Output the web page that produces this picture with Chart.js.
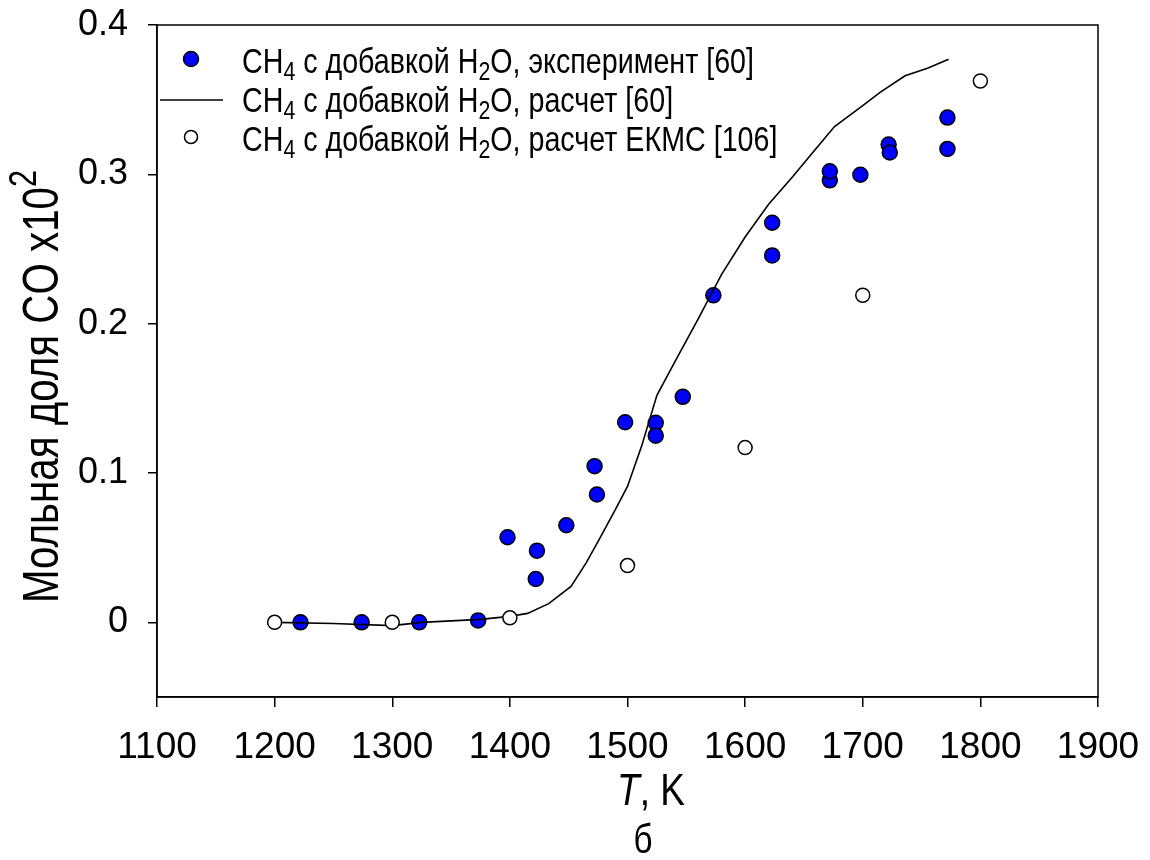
<!DOCTYPE html>
<html>
<head>
<meta charset="utf-8">
<script src="https://cdn.jsdelivr.net/npm/chart.js@4.4.1/dist/chart.umd.min.js"></script>
<style>
  html, body { margin: 0; padding: 0; background: #fff; }
  #wrap { width: 1150px; height: 860px; }
</style>
</head>
<body>
<div id="wrap"><canvas id="c" width="1150" height="860"></canvas></div>
<script>
// experiment [60]
const expT = [1222, 1274, 1323, 1373, 1398, 1422, 1423, 1448, 1472, 1474, 1498, 1524, 1524, 1547, 1573, 1623, 1623, 1672, 1672, 1698, 1722, 1723, 1772, 1772];
const expY = [0.000, 0.000, 0.000, 0.0013, 0.057, 0.029, 0.048, 0.065, 0.1046, 0.0856, 0.134, 0.1336, 0.125, 0.151, 0.219, 0.2457, 0.2676, 0.296, 0.302, 0.2997, 0.320, 0.3146, 0.338, 0.317];
// calc [60]
const calcT = [1200, 1250, 1300, 1325, 1375, 1400, 1415, 1433, 1452, 1465, 1477, 1490, 1500, 1512, 1525, 1540, 1560, 1580, 1600, 1620, 1640, 1660, 1676, 1700, 1715, 1736, 1755, 1773];
const calcY = [0.000, -0.0008, -0.0022, 0.000, 0.002, 0.004, 0.006, 0.0125, 0.024, 0.040, 0.057, 0.076, 0.091, 0.118, 0.152, 0.174, 0.203, 0.233, 0.258, 0.280, 0.298, 0.317, 0.332, 0.346, 0.355, 0.366, 0.371, 0.377];
// EKMC calc [106]
const ekmcT = [1200, 1300, 1400, 1500, 1600, 1700, 1800];
const ekmcY = [0.000, 0.000, 0.003, 0.038, 0.117, 0.219, 0.3625];

const xTicks = [1100, 1200, 1300, 1400, 1500, 1600, 1700, 1800, 1900];
const yTicks = [0, 0.1, 0.2, 0.3, 0.4];

const FONT = "'Liberation Sans', Arial, sans-serif";
const toXY = (xs, ys) => xs.map((x, i) => ({ x: x, y: ys[i] }));

// rich text: parts = [[text, 'n'|'sub'|'sup'|'it'], ...]
function fontFor(kind, size) {
  if (kind === 'sub' || kind === 'sup') return Math.round(size * 0.75) + 'px ' + FONT;
  if (kind === 'it') return 'italic ' + size + 'px ' + FONT;
  return size + 'px ' + FONT;
}
function richWidth(ctx, parts, size) {
  let w = 0;
  parts.forEach(p => { ctx.font = fontFor(p[1], size); w += ctx.measureText(p[0]).width; });
  return w;
}
// draws horizontally condensed by sx, starting at x (baseline y)
function drawRich(ctx, parts, x, y, size, sx) {
  ctx.save();
  ctx.translate(x, y);
  ctx.scale(sx, 1);
  ctx.textBaseline = 'alphabetic';
  ctx.textAlign = 'left';
  let cx = 0;
  parts.forEach(p => {
    ctx.font = fontFor(p[1], size);
    let dy = 0;
    if (p[1] === 'sub') dy = size * 0.2;
    if (p[1] === 'sup') dy = -size * 0.45;
    ctx.fillText(p[0], cx, dy);
    cx += ctx.measureText(p[0]).width;
  });
  ctx.restore();
}

const legendRows = [
  { kind: 'blue', parts: [['CH', 'n'], ['4', 'sub'], [' с добавкой H', 'n'], ['2', 'sub'], ['O, эксперимент [60]', 'n']] },
  { kind: 'line', parts: [['CH', 'n'], ['4', 'sub'], [' с добавкой H', 'n'], ['2', 'sub'], ['O, расчет [60]', 'n']] },
  { kind: 'white', parts: [['CH', 'n'], ['4', 'sub'], [' с добавкой H', 'n'], ['2', 'sub'], ['O, расчет ЕКМС [106]', 'n']] }
];

const decor = {
  id: 'decor',
  afterDraw(chart) {
    const ctx = chart.ctx;
    const a = chart.chartArea;
    ctx.save();
    ctx.strokeStyle = '#000';
    ctx.lineWidth = 1.5;
    ctx.strokeRect(a.left, a.top, a.right - a.left, a.bottom - a.top);

    // legend
    const lsize = 35;
    const lsx = 512 / richWidth(ctx, legendRows[0].parts, lsize);
    legendRows.forEach((r, i) => {
      const cy = 60 + i * 39;
      if (r.kind === 'line') {
        ctx.beginPath();
        ctx.moveTo(160, cy + 1); ctx.lineTo(223, cy + 1);
        ctx.lineWidth = 1.5; ctx.strokeStyle = '#000'; ctx.stroke();
      } else {
        ctx.beginPath();
        ctx.arc(191, cy - 1, r.kind === 'blue' ? 7.5 : 6.5, 0, Math.PI * 2);
        ctx.fillStyle = r.kind === 'blue' ? '#0000ff' : '#ffffff';
        ctx.fill();
        ctx.lineWidth = 1.5; ctx.strokeStyle = '#000'; ctx.stroke();
      }
      ctx.fillStyle = '#000';
      drawRich(ctx, r.parts, 242, cy + lsize * 0.358, lsize, lsx);
    });

    // x title
    ctx.fillStyle = '#000';
    const xt = [['T', 'it'], [', K', 'n']];
    const xsize = 44, xsx = 68 / richWidth(ctx, xt, xsize);
    drawRich(ctx, xt, 617, 805, xsize, xsx);
    const bw = richWidth(ctx, [['б', 'n']], 40) * 0.83;
    drawRich(ctx, [['б', 'n']], 643 - bw / 2, 853, 40, 0.83);

    // y title (rotated)
    const yt = [['Мольная доля CO x10', 'n'], ['2', 'sup']];
    const ysize = 50, ysx = 433 / richWidth(ctx, yt, ysize);
    ctx.translate(58, 603);
    ctx.rotate(-Math.PI / 2);
    drawRich(ctx, yt, 0, 0, ysize, ysx);
    ctx.restore();
  }
};

new Chart(document.getElementById('c'), {
  type: 'scatter',
  data: {
    datasets: [
      {
        label: 'ekmc', data: toXY(ekmcT, ekmcY), order: 0,
        pointRadius: 7, pointBackgroundColor: '#ffffff', pointBorderColor: '#000', pointBorderWidth: 1.5
      },
      {
        label: 'calc', data: toXY(calcT, calcY), order: 1, showLine: true,
        pointRadius: 0, borderColor: '#000', borderWidth: 1.6, tension: 0
      },
      {
        label: 'exp', data: toXY(expT, expY), order: 2,
        pointRadius: 7.5, pointBackgroundColor: '#0000ff', pointBorderColor: '#000', pointBorderWidth: 1.5
      }
    ]
  },
  options: {
    responsive: false,
    animation: false,
    events: [],
    layout: { padding: { top: 25, right: 52, left: 0, bottom: 0 } },
    plugins: { legend: { display: false }, tooltip: { enabled: false } },
    scales: {
      x: {
        type: 'linear', min: 1100, max: 1900,
        afterFit: s => { s.height = 163; s.paddingLeft = 0; s.paddingRight = 0; },
        afterBuildTicks: s => { s.ticks = xTicks.map(v => ({ value: v })); },
        ticks: { color: '#000', font: { family: FONT, size: 37 }, padding: 19, maxRotation: 0, callback: v => String(v) },
        grid: { drawOnChartArea: false, drawTicks: true, tickLength: 10, color: '#000', lineWidth: 1.5 },
        border: { display: true, color: '#000', width: 1.5 }
      },
      y: {
        type: 'linear', min: -0.05, max: 0.4,
        afterFit: s => { s.width = 157; s.paddingTop = 0; s.paddingBottom = 0; },
        afterBuildTicks: s => { s.ticks = yTicks.map(v => ({ value: v })); },
        ticks: { color: '#000', font: { family: FONT, size: 36 }, padding: 20, callback: v => (v === 0 ? '0' : v.toFixed(1)) },
        grid: { drawOnChartArea: false, drawTicks: true, tickLength: 9, color: '#000', lineWidth: 1.5 },
        border: { display: true, color: '#000', width: 1.5 }
      }
    }
  },
  plugins: [decor]
});
</script>
</body>
</html>
